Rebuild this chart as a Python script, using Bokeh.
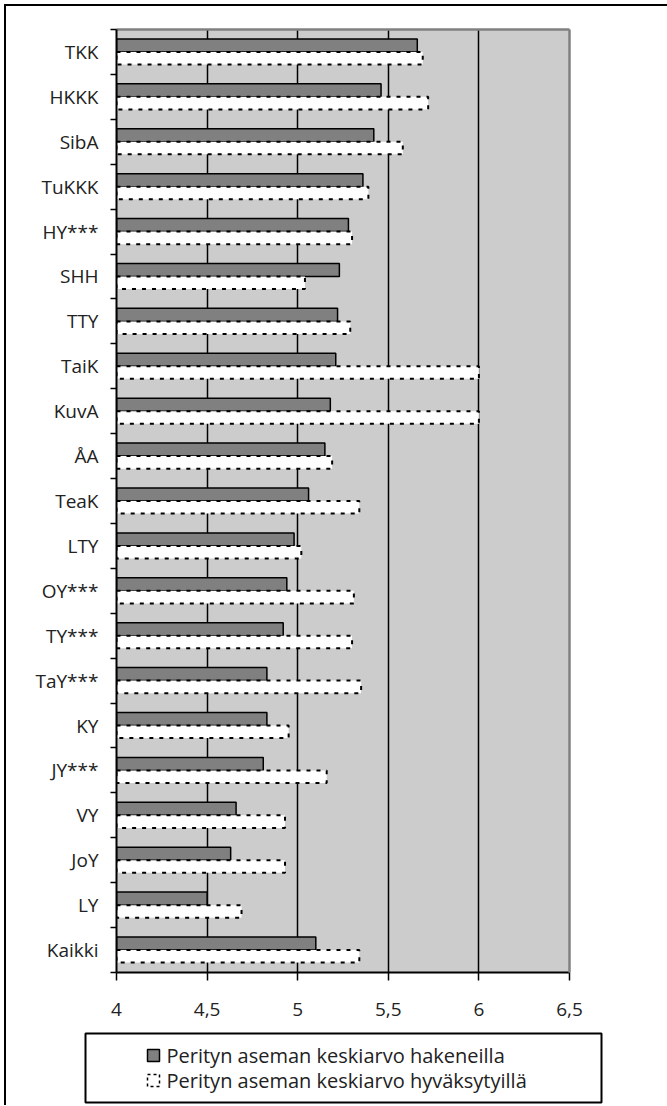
import numpy as np
from bokeh.plotting import figure
from bokeh.models import Range1d, FixedTicker, LinearAxis, ColumnDataSource
from bokeh.layouts import column, row
from bokeh.transform import dodge
from bokeh.embed import file_html
from bokeh.resources import INLINE
from bokeh.core.properties import value

# ---- data ----
categories = ["TKK", "HKKK", "SibA", "TuKKK", "HY***", "SHH", "TTY", "TaiK", "KuvA", "ÅA",
              "TeaK", "LTY", "OY***", "TY***", "TaY***", "KY", "JY***", "VY", "JoY", "LY", "Kaikki"]
hakeneilla = [5.66, 5.46, 5.42, 5.36, 5.28, 5.23, 5.22, 5.21, 5.18, 5.15,
              5.06, 4.98, 4.94, 4.92, 4.83, 4.83, 4.81, 4.66, 4.63, 4.50, 5.10]
hyvaksytyilla = [5.69, 5.72, 5.58, 5.39, 5.30, 5.04, 5.29, 6.00, 6.00, 5.19,
                 5.34, 5.02, 5.31, 5.30, 5.35, 4.95, 5.16, 4.93, 4.93, 4.69, 5.34]
x_ticks = [4, 4.5, 5, 5.5, 6, 6.5]
x_tick_labels = ["4", "4,5", "5", "5,5", "6", "6,5"]
legend_labels = ["Perityn aseman keskiarvo hakeneilla",
                 "Perityn aseman keskiarvo hyväksytyillä"]

FONT = "Open Sans"
FS = "19px"
TXT = "#222222"
W = 661
FRAME_L, FRAME_W, FRAME_T, FRAME_H = 110, 453, 23, 943
H1 = 1014

n = len(categories)
pos = list(np.arange(n)[::-1].astype(float))
src = ColumnDataSource(dict(cat=categories, pos=pos, hak=hakeneilla, hyv=hyvaksytyilla))

p = figure(width=W, height=H1, x_range=Range1d(4, 6.5), y_range=Range1d(-0.5, n - 0.5),
           output_backend="svg", toolbar_location=None,
           min_border_left=FRAME_L, min_border_right=W - FRAME_L - FRAME_W,
           min_border_top=FRAME_T, min_border_bottom=H1 - FRAME_T - FRAME_H)
p.background_fill_color = "#cccccc"
p.border_fill_color = "white"
p.outline_line_color = None

# grid
p.ygrid.visible = False
p.xgrid.ticker = FixedTicker(ticks=[t for t in x_ticks if 4 < t < 6.5])
p.xgrid.grid_line_color = "black"
p.xgrid.grid_line_width = 1.5

# bars
p.hbar(y=dodge("pos", 0.145), left=4, right="hak", height=0.29, source=src,
       fill_color="#808080", line_color="black", line_width=1.5)
p.hbar(y=dodge("pos", -0.14), left=4, right="hyv", height=0.28, source=src,
       fill_color="white", line_color="black", line_width=2, line_dash="4 6")

# x axis
xa = p.xaxis[0]
xa.ticker = FixedTicker(ticks=x_ticks)
xa.major_label_overrides = {t: l for t, l in zip(x_ticks, x_tick_labels)}
xa.major_tick_in = 0
xa.major_tick_out = 8
xa.major_tick_line_width = 1.5
xa.minor_tick_line_color = None
xa.axis_line_width = 2
xa.major_label_standoff = 22
xa.major_label_text_font = FONT
xa.major_label_text_font_size = FS
xa.major_label_text_color = TXT

# y axis: labels at centres, ticks at boundaries
ya = p.yaxis[0]
ya.ticker = FixedTicker(ticks=pos, minor_ticks=[k - 0.5 for k in range(n + 1)])
ya.major_label_overrides = {pv: c for pv, c in zip(pos, categories)}
ya.major_tick_in = 0
ya.major_tick_out = 0
ya.major_tick_line_color = None
ya.minor_tick_in = 0
ya.minor_tick_out = 6
ya.minor_tick_line_color = "black"
ya.minor_tick_line_width = 1.5
ya.axis_line_width = 2
ya.major_label_standoff = 12
ya.major_label_text_font = FONT
ya.major_label_text_font_size = FS
ya.major_label_text_color = TXT

# gray frame border on top / right
for side in ("above", "right"):
    ax = LinearAxis(ticker=FixedTicker(ticks=[]), axis_line_color="#808080", axis_line_width=2.5,
                    major_tick_line_color=None, minor_tick_line_color=None,
                    major_label_text_font_size="0px", major_label_standoff=0)
    p.add_layout(ax, side)

# legend as its own small panel
LEG_L, LEG_W, LEG_H = 79, 516, 69
q = figure(width=W, height=85, x_range=Range1d(0, LEG_W), y_range=Range1d(0, LEG_H),
           output_backend="svg", toolbar_location=None, x_axis_type=None, y_axis_type=None,
           min_border_left=LEG_L, min_border_right=W - LEG_L - LEG_W,
           min_border_top=13, min_border_bottom=3)
q.outline_line_color = "black"
q.outline_line_width = 2
q.background_fill_color = "white"
q.border_fill_color = "white"
row_y = [47, 22]
q.rect(x=[68], y=[row_y[0]], width=12, height=12, width_units="screen", height_units="screen",
       fill_color="#808080", line_color="black", line_width=1.5)
q.rect(x=[68], y=[row_y[1]], width=12, height=12, width_units="screen", height_units="screen",
       fill_color="white", line_color="black", line_width=1.5, line_dash="3 3")
q.text(x=[81, 81], y=row_y, text=legend_labels, text_font=value(FONT), text_font_size="20px",
       text_baseline="middle", text_align="left", text_color=TXT)

lay = column(p, row(q), spacing=0)
lay.styles = {"border-left": "2px solid black", "border-top": "2px solid black",
              "margin-left": "4px", "margin-top": "4px"}

open("out.html", "w").write(file_html(lay, INLINE))
